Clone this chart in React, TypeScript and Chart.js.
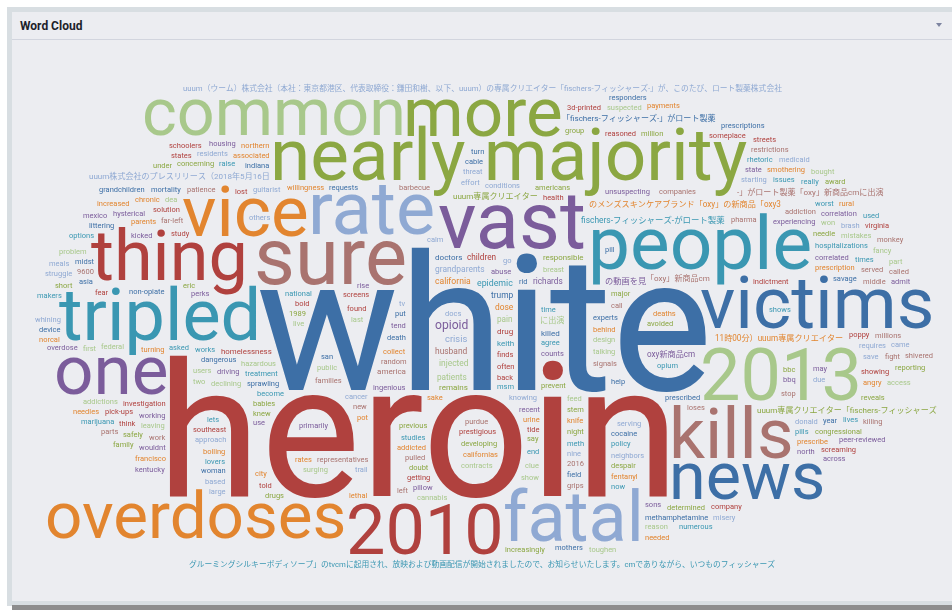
import React, { useEffect, useRef } from "react";
import { Chart, registerables } from "chart.js";

Chart.register(...registerables);

// ---------- DATA ----------
const topWords: string[] = [
  "white", "heroin", "nearly majority", "tripled", "vast", "vice", "fatal", "kills", "2013",
  "victims", "thing", "more", "people", "one", "overdoses", "rate", "sure", "common", "news", "2010",
];
const topValues: number[] = [
  100, 99, 36.5, 36, 40, 35.5, 35, 35.5, 36, 36.5, 35, 34.5, 37.5, 34.5, 32.5, 37, 40, 33, 33, 35,
];

const midWords: string[] = [
  "remains", "epidemic", "opioid", "california", "crisis", "husband", "patients", "trump", "drug",
  "uuum専属クリエイター", "keith", "richards", "dose", "grandparents", "america", "injected", "killed",
  "children", "uuum専属クリエイター「fischers-フィッシャーズ", "fischers-フィッシャーズ-がロート製薬",
  "の動画を見", "のメンズスキンケアブランド「oxy」の新商品「oxy3",
  "uuum（ウーム）株式会社（本社：東京都港区、代表取締役：鎌田和樹、以下、uuum）の専属クリエイター「fischers-フィッシャーズ-」が、このたび、ロート製薬株式会社",
  "「oxy」新商品cm", "pain", "doctors", "homelessness", "responsible",
  "グルーミングシルキーボディソープ」のtvcmに起用され、放映および動画配信が開始されましたので、お知らせいたします。cmでありながら、いつものフィッシャーズ",
  "oxy新商品cm", "11時00分）uuum専属クリエイター", "uuum株式会社のプレスリリース（2018年5月16日",
  "-」がロート製薬「oxy」新商品cmに出演", "に出演", "「fischers-フィッシャーズ-」がロート製薬",
];
const midValues: number[] = [
  1.3, 1.7, 3.5, 1.6, 2, 1.5, 1.4, 1.5, 1.3,
  1.3, 1.3, 1.4, 1.5, 1.5, 1.3, 1.5, 1.3,
  1.4, 1.3, 1.5,
  1.4, 1.35,
  1.15,
  1.3, 1.4, 1.3, 1.2, 1.2,
  1.15,
  1.35, 1.35, 1.3,
  1.3, 1.35, 1.3,
];

const smallWords: string[] = [
  "prestigious", "developing", "agree", "ingenious", "collect", "knowing", "random", "hazardous",
  "experts", "screens", "prevent", "treatment", "counts", "behind", "docs", "signals", "design",
  "sprawling", "finds", "avoided", "national", "abuse", "californias", "conditions", "families",
  "talking", "death", "often", "previous", "studies", "unsuspecting", "addicted", "serving",
  "barbecue", "breast", "prescribed", "found", "americans", "become", "recent", "deaths", "cancer",
  "representatives", "public", "cocaine", "back", "major", "msm", "tend", "sake", "calm", "purdue",
  "feed", "help", "bold", "stem", "opium", "primarily", "knife", "effort", "pulled", "contracts",
  "dangerous", "health", "babies", "policy", "driving", "urine", "threat", "loses", "declining",
  "requests", "indictment", "doubt", "works", "perks", "willingness", "neighbors", "companies",
  "users", "cable", "getting", "despair", "asked", "pillow", "fentanyl", "guitarist", "pharma",
  "cannabis", "non-opiate", "southeast", "night", "time", "experiencing", "prescription", "approach",
  "far-left", "surging", "indiana", "investigation", "1989", "shows", "correlated", "bolling",
  "others", "patience", "last", "savage", "reasoned", "knew", "hospitalizations", "working",
  "turning", "starting", "addiction", "federal", "put", "solution", "group", "meth", "kicked",
  "associated", "donald", "new", "show", "san", "study", "needle", "lovers", "rise", "lethal",
  "nine", "2016", "clue", "field", "tide", "say", "end", "use", "rates", "trail", "grips", "two",
  "turn", "poppy", "bbc", "lets", "bbq", "parents", "go", "stop", "leaving", "rid", "lost",
  "million", "now", "may", "city", "tv", "call", "live", "pill", "told", "eric", "pills", "sons",
  "pot", "due", "left", "dea", "woman", "fear", "drugs", "raise", "state", "northern", "requires",
  "work", "won", "mortality", "pick-ups", "determined", "issues", "hysterical", "prescribe", "save",
  "middle", "first", "year", "3d-printed", "concerning", "times", "correlation", "chronic", "based",
  "served", "mistakes", "methamphetamine", "showing", "congressional", "rhetoric", "wouldnt",
  "smothering", "residents", "millions", "addictions", "asia", "think", "safely", "worst", "north",
  "angry", "brash", "9600", "suspected", "midst", "someplace", "reveals", "lives", "housing",
  "francisco", "large", "fight", "reason", "littering", "company", "increasingly", "really",
  "overdose", "increased", "came", "restrictions", "fancy", "grandchildren", "screaming", "short",
  "marijuana", "admit", "rural", "medicaid", "called", "problem", "mothers", "states", "family",
  "options", "kentucky", "needles", "struggle", "parts", "access", "responders", "virginia", "under",
  "numerous", "mexico", "payments", "whining", "monkey", "part", "device", "schoolers", "reporting",
  "makers", "peer-reviewed", "norcal", "meals", "killing", "bought", "prescriptions", "streets",
  "award", "used", "across", "needed", "misery", "shivered", "toughen",
];
const smallWordValue = 1;

const palette: string[] = [
  "#3d6fa6", "#b0413e", "#8ba742", "#3a97b2", "#7b5c9b",
  "#e2852f", "#8fa9d3", "#a9736f", "#a8c88b",
];

// ---------- LAYOUT SETTINGS ----------
const W = 940;
const H = 560;
const CELL = 2;
const PAD = 2;
const MIN_FONT = 7.5;
const MAX_FONT = 190;
const ASPECT = 1.85;
const FAMILY = 'Roboto, "Noto Sans CJK JP", sans-serif';

type Placed = { x: number; y: number; text: string; size: number; color: string };

function buildCloud(): Placed[] {
  const allWords = [...topWords, ...midWords, ...smallWords];
  const allValues = [...topValues, ...midValues, ...smallWords.map(() => smallWordValue)];
  const vmin = Math.min(...allValues);
  const vmax = Math.max(...allValues);
  const items = allWords.map((text, i) => ({
    text,
    value: allValues[i],
    index: i,
    color: palette[i % palette.length],
    size: MIN_FONT + ((allValues[i] - vmin) / (vmax - vmin)) * (MAX_FONT - MIN_FONT),
  }));
  items.sort((a, b) => b.value - a.value || a.index - b.index);

  const gw = Math.floor(W / CELL);
  const gh = Math.floor(H / CELL);
  const grid = new Uint8Array(gw * gh);

  const hw = Math.floor(gw / 2);
  const hh = Math.floor(gh / 2);
  const n = (2 * hw + 1) * (2 * hh + 1);
  const key = new Float64Array(n);
  const odx = new Int16Array(n);
  const ody = new Int16Array(n);
  let k = 0;
  for (let dy = -hh; dy <= hh; dy++) {
    for (let dx = -hw; dx <= hw; dx++) {
      const ex = dx / ASPECT;
      key[k] = ex * ex + dy * dy + (Math.atan2(dy, dx) + Math.PI) * 1e-4;
      odx[k] = dx;
      ody[k] = dy;
      k++;
    }
  }
  const order = Array.from({ length: n }, (_, i) => i);
  order.sort((a, b) => key[a] - key[b]);

  const off = document.createElement("canvas");
  off.width = 1000;
  off.height = 400;
  const octx = off.getContext("2d", { willReadFrequently: true }) as CanvasRenderingContext2D;

  const placed: Placed[] = [];
  for (const it of items) {
    const font = `${it.size.toFixed(2)}px ${FAMILY}`;
    octx.font = font;
    const m = octx.measureText(it.text);
    const left = Math.ceil(m.actualBoundingBoxLeft) + 1;
    const right = Math.ceil(m.actualBoundingBoxRight) + 1;
    const asc = Math.ceil(m.actualBoundingBoxAscent) + 1;
    const desc = Math.ceil(m.actualBoundingBoxDescent) + 1;
    const cw = Math.ceil((left + right) / CELL);
    const ch = Math.ceil((asc + desc) / CELL);
    if (cw > gw || ch > gh) continue;
    const pw = cw * CELL;
    const ph = ch * CELL;
    octx.clearRect(0, 0, pw, ph);
    octx.font = font;
    octx.fillStyle = "#000";
    octx.textAlign = "left";
    octx.textBaseline = "alphabetic";
    octx.fillText(it.text, left, asc);
    const data = octx.getImageData(0, 0, pw, ph).data;
    const cells: number[] = [];
    for (let cj = 0; cj < ch; cj++) {
      for (let ci = 0; ci < cw; ci++) {
        let hit = false;
        for (let py = cj * CELL; py < cj * CELL + CELL && !hit; py++) {
          for (let px = ci * CELL; px < ci * CELL + CELL; px++) {
            if (data[(py * pw + px) * 4 + 3] > 20) { hit = true; break; }
          }
        }
        if (hit) cells.push(ci, cj);
      }
    }
    const cx0 = gw / 2 - cw / 2;
    const cy0 = gh / 2 - ch / 2;
    let found = -1;
    let fgx = 0, fgy = 0;
    for (let oi = 0; oi < n; oi++) {
      const o = order[oi];
      const gx = Math.round(cx0 + odx[o]);
      const gy = Math.round(cy0 + ody[o]);
      if (gx < 0 || gy < 0 || gx + cw > gw || gy + ch > gh) continue;
      let ok = true;
      for (let c = 0; c < cells.length; c += 2) {
        if (grid[(gy + cells[c + 1]) * gw + gx + cells[c]]) { ok = false; break; }
      }
      if (ok) { found = o; fgx = gx; fgy = gy; break; }
    }
    if (found < 0) continue;
    for (let c = 0; c < cells.length; c += 2) {
      const x = fgx + cells[c];
      const y = fgy + cells[c + 1];
      for (let yy = y - PAD; yy <= y + PAD; yy++) {
        if (yy < 0 || yy >= gh) continue;
        for (let xx = x - PAD; xx <= x + PAD; xx++) {
          if (xx < 0 || xx >= gw) continue;
          grid[yy * gw + xx] = 1;
        }
      }
    }
    placed.push({ x: fgx * CELL + left, y: fgy * CELL + asc, text: it.text, size: it.size, color: it.color });
  }
  return placed;
}

export default function App() {
  const ref = useRef<HTMLCanvasElement | null>(null);

  useEffect(() => {
    if (!ref.current) return;
    const placed = buildCloud();
    const wordPlugin = {
      id: "wordText",
      afterDatasetsDraw(chart: any) {
        const ctx = chart.ctx as CanvasRenderingContext2D;
        const meta = chart.getDatasetMeta(0);
        ctx.save();
        ctx.textAlign = "left";
        ctx.textBaseline = "alphabetic";
        meta.data.forEach((el: any, i: number) => {
          const p = placed[i];
          ctx.font = `${p.size.toFixed(2)}px ${FAMILY}`;
          ctx.fillStyle = p.color;
          ctx.fillText(p.text, el.x, el.y);
        });
        ctx.restore();
      },
    };
    const chart = new Chart(ref.current, {
      type: "scatter",
      data: {
        datasets: [
          {
            data: placed.map((p) => ({ x: p.x, y: p.y })),
            pointRadius: 0,
            pointHoverRadius: 0,
          },
        ],
      },
      options: {
        animation: false,
        responsive: false,
        events: [],
        layout: { padding: 0 },
        plugins: { legend: { display: false }, tooltip: { enabled: false } },
        scales: {
          x: { type: "linear", min: 0, max: W, display: false },
          y: { type: "linear", min: 0, max: H, reverse: true, display: false },
        },
      },
      plugins: [wordPlugin],
    } as any);
    return () => chart.destroy();
  }, []);

  return (
    <div style={{ position: "relative", width: 952, height: 610, background: "#ffffff", overflow: "hidden" }}>
      <style>{`body{margin:0;}`}</style>
      <div style={{ position: "absolute", left: 7, top: 7, width: 945, height: 599, background: "#d8dee2" }} />
      <div style={{ position: "absolute", left: 12, top: 12, width: 940, height: 589, background: "#ecedf1" }} />
      <div style={{ position: "absolute", left: 12, top: 605, width: 940, height: 5, background: "#8d8d8d" }} />
      <div
        style={{
          position: "absolute",
          left: 20,
          top: 18,
          fontFamily: "Roboto, sans-serif",
          fontWeight: 700,
          fontSize: 12,
          color: "#1d1f2b",
          lineHeight: "16px",
        }}
      >
        Word Cloud
      </div>
      <div
        style={{
          position: "absolute",
          left: 936,
          top: 23,
          width: 0,
          height: 0,
          borderLeft: "3.5px solid transparent",
          borderRight: "3.5px solid transparent",
          borderTop: "4px solid #7d84a0",
        }}
      />
      <div style={{ position: "absolute", left: 12, top: 39, width: 940, height: 1, background: "#d2d5de" }} />
      <canvas
        ref={ref}
        width={W}
        height={H}
        style={{ position: "absolute", left: 12, top: 40, width: W, height: H, display: "block" }}
      />
    </div>
  );
}
